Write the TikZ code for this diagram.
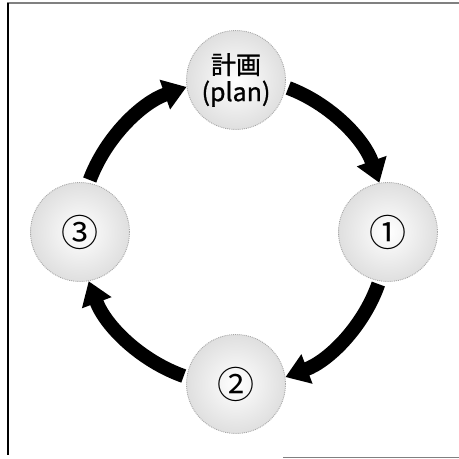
\documentclass[tikz,border=0pt]{standalone}
\usepackage{fontspec}
\setmainfont{Noto Sans CJK JP}
\newfontfamily\planfont{Noto Sans CJK JP}[FakeBold=1]
\usepackage{tikz}
\usetikzlibrary{arrows.meta}

\tikzset{
  stage/.style={circle, minimum size=99pt, inner sep=0pt, inner color=white, outer color=gray!25,
    draw=gray!70, densely dotted, line width=0.9pt, align=center},
  planlabel/.style={font=\planfont\fontsize{25}{27}\selectfont},
  numlabel/.style={font=\fontsize{37}{40}\selectfont},
  cyclearrow/.style={line width=14pt, -{Triangle[width=30pt,length=23pt]}, bend left=25, looseness=0.9},
}

\begin{document}
\begin{tikzpicture}[x=1pt,y=1pt]
    \useasboundingbox (0,0) rectangle (459,459);
    \draw[gray, line width=1.3pt] (7,456) -- (459,456);
    \draw[line width=1.3pt] (8,456) -- (8,4);
    \draw[gray, line width=1.3pt] (283,1.5) -- (459,1.5);
    \node[stage, planlabel] (plan) at (236,379) {計画\\(plan)};
    \node[stage, numlabel] (one) at (388,227) {①};
    \node[stage, numlabel] (two) at (236,75) {②};
    \node[stage, numlabel] (three) at (80,227) {③};
    \draw[cyclearrow, shorten <=3pt] (plan.-8) to (one.100);
    \draw[cyclearrow, shorten <=3pt] (one.-100) to (two.8);
    \draw[cyclearrow, shorten <=3pt] (two.172) to (three.-80);
    \draw[cyclearrow, shorten <=3pt] (three.80) to (plan.188);
  \end{tikzpicture}
\end{document}
